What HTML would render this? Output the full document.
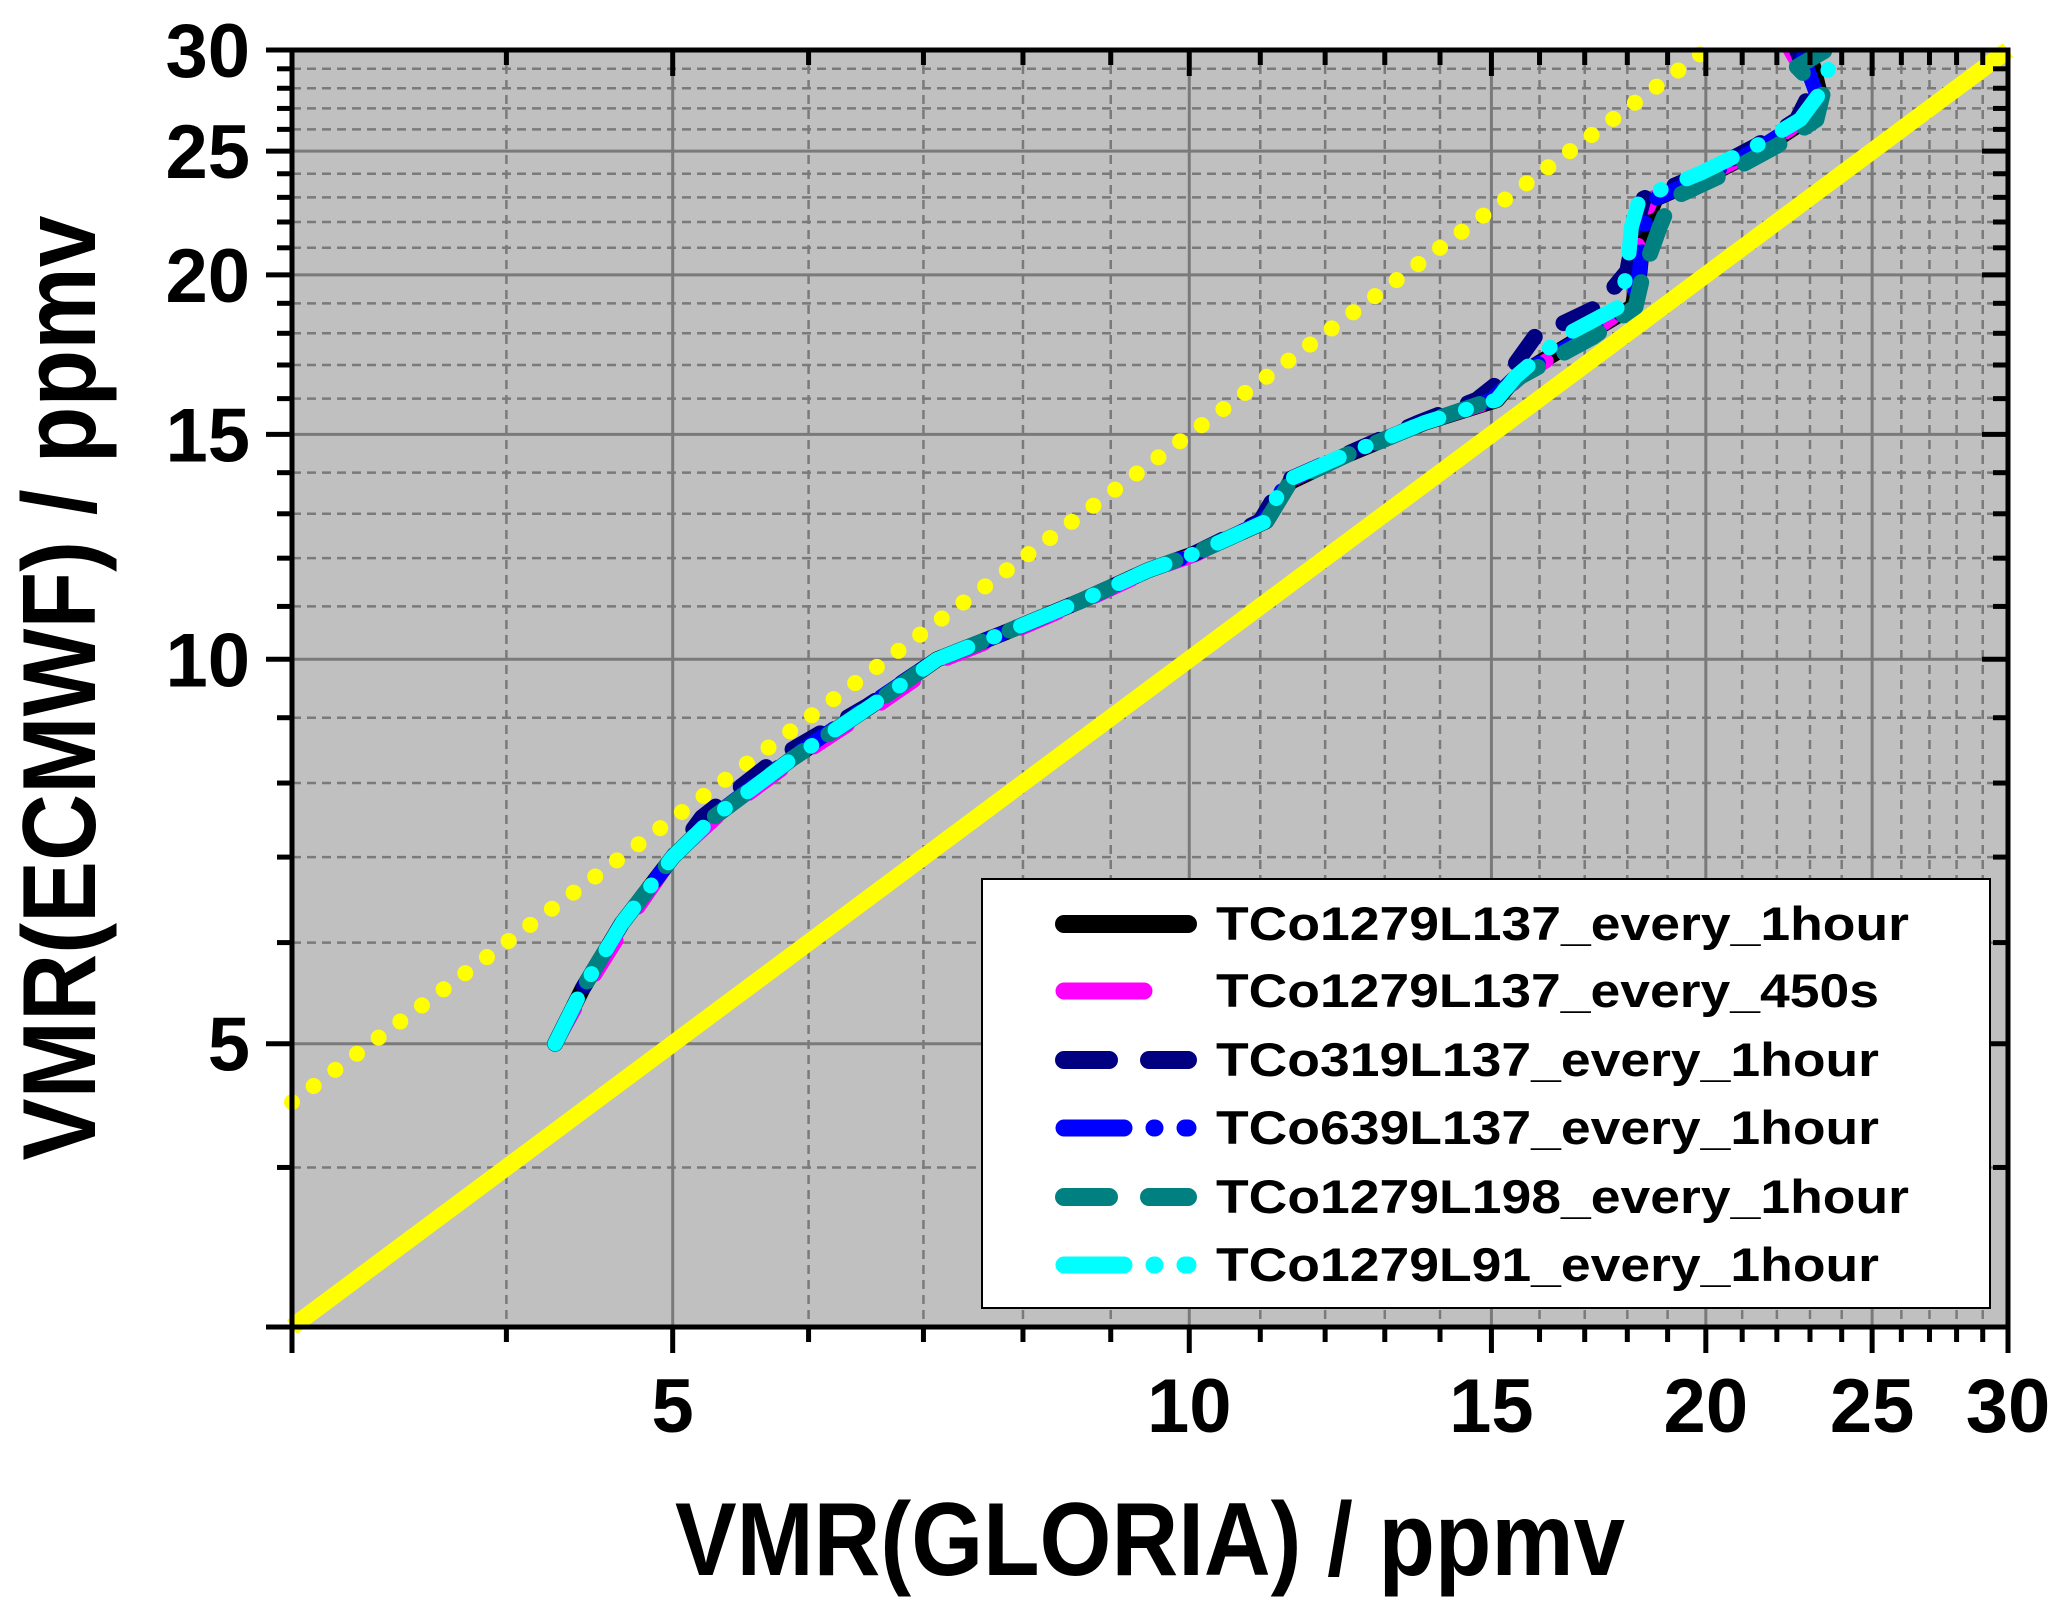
<!DOCTYPE html>
<html><head><meta charset="utf-8"><style>
body{margin:0;background:#fff}
svg{display:block;font-family:"Liberation Sans",Arial,sans-serif}
</style></head><body>
<svg id="chart" width="2067" height="1609" viewBox="0 0 2067 1609">
<rect x="292" y="50" width="1716" height="1277" fill="#c0c0c0"/>
<g id="grid"></g>
<g id="series"></g>
<g id="axes"></g>
<text x="1150" y="1575" font-size="104" font-weight="bold" text-anchor="middle" textLength="950" lengthAdjust="spacingAndGlyphs">VMR(GLORIA) / ppmv</text>
<text transform="translate(95,688) rotate(-90)" font-size="104" font-weight="bold" text-anchor="middle" textLength="945" lengthAdjust="spacingAndGlyphs">VMR(ECMWF) / ppmv</text>
<g id="legend"></g>
</svg>
<script>
const categoriesY = [5.0,5.52,6.21,7.0,7.52,8.36,9.2,10.0,10.48,11.12,11.74,12.09,12.83,13.77,14.44,15.32,15.96,16.65,17.89,18.88,20.13,21.8,22.95,24.06,25.24,26.46,27.74,29.1,30];
const x1hour = [4.27,4.43,4.67,5.0,5.28,5.87,6.53,7.13,7.79,8.66,9.46,10.06,11.09,11.45,12.33,13.71,15.11,15.52,16.95,18.13,18.3,18.4,18.7,20.24,21.7,22.9,23.3,23.1,22.6];
const x450s  = [4.27,4.45,4.7,5.0,5.3,5.9,6.58,7.2,7.85,8.7,9.5,10.1,11.05,11.4,12.3,13.7,15.1,15.6,17.0,18.0,18.2,18.3,18.6,20.2,21.7,22.8,23.0,22.7,22.4];
const x319   = [4.27,4.43,4.67,5.0,5.2,5.75,6.5,7.13,7.79,8.66,9.46,10.06,11.0,11.35,12.3,13.6,14.7,15.3,15.9,17.3,18.0,18.2,18.4,20.0,21.4,22.6,23.0,22.8,22.6];
const x639   = [4.27,4.43,4.67,5.0,5.27,5.85,6.5,7.13,7.79,8.66,9.46,10.06,11.05,11.4,12.3,13.7,15.0,15.5,17.0,18.1,18.3,18.4,18.7,20.2,21.6,22.8,23.2,22.9,22.7];
const x1279L198 = [4.27,4.43,4.67,5.0,5.28,5.87,6.53,7.13,7.79,8.66,9.46,10.06,11.09,11.45,12.33,13.71,15.0,15.6,17.2,18.2,18.4,18.8,19.1,20.6,22.0,23.2,23.4,22.6,23.5];
const x91    = [4.27,4.43,4.67,5.0,5.28,5.87,6.53,7.13,7.79,8.66,9.46,10.06,11.09,11.35,12.3,13.71,15.1,15.5,16.5,17.8,18.0,18.1,18.3,19.9,21.4,22.7,23.3,23.6,24.0];
const seriesNames = ["TCo1279L137_every_1hour","TCo1279L137_every_450s","TCo319L137_every_1hour","TCo639L137_every_1hour","TCo1279L198_every_1hour","TCo1279L91_every_1hour"];
const tickVals = [5,10,15,20,25,30];
const tickLabels = ["5","10","15","20","25","30"];
const oneToOne = [3,30];
const dottedRatio = 1.5;

const NS="http://www.w3.org/2000/svg";
const L=292,R=2008,T=50,B=1327,lo=Math.log10(3),hi=Math.log10(30);
const sx=v=>L+(Math.log10(v)-lo)/(hi-lo)*(R-L);
const sy=v=>B-(Math.log10(v)-lo)/(hi-lo)*(B-T);
function mk(tag,attrs,parent){const e=document.createElementNS(NS,tag);for(const k in attrs)e.setAttribute(k,attrs[k]);parent.appendChild(e);return e;}
const grid=document.getElementById('grid'),axes=document.getElementById('axes'),ser=document.getElementById('series'),leg=document.getElementById('legend');
for(let v=4;v<30;v++){
  const major=v%5===0;
  const gx=mk('line',{x1:sx(v),x2:sx(v),y1:T,y2:B,stroke:'#7a7a7a','stroke-width':major?3:2.5,'stroke-dasharray':major?'none':'9 6'},grid);
  
  
  const gy=mk('line',{x1:L,x2:R,y1:sy(v),y2:sy(v),stroke:'#7a7a7a','stroke-width':major?3:2.5,'stroke-dasharray':major?'none':'9 6'},grid);
  
  
}
for(let v=3;v<=30;v++){
  const major=v%5===0||v===3;
  const len=major?26:15;
  const p=[[sx(v),B,sx(v),B+len],[sx(v),T,sx(v),T+len],[L,sy(v),L-len,sy(v)],[R,sy(v),R-len,sy(v)]];
  p.forEach(q=>{const t=mk('line',{x1:q[0],y1:q[1],x2:q[2],y2:q[3],stroke:'#000','stroke-width':5},axes);
    
    });
}
const frame=mk('rect',{x:L,y:T,width:R-L,height:B-T,fill:'none',stroke:'#000','stroke-width':5},axes);


tickVals.forEach((v,i)=>{
  const tx=mk('text',{x:sx(v),y:1432,'font-size':76,'font-weight':'bold','text-anchor':'middle'},axes);tx.textContent=tickLabels[i];
  
  
  const ty=mk('text',{x:250,y:sy(v)+27,'font-size':76,'font-weight':'bold','text-anchor':'end'},axes);ty.textContent=tickLabels[i];
  
  
});
const ref=mk('line',{x1:sx(oneToOne[0]),y1:sy(oneToOne[0]),x2:sx(oneToOne[1]),y2:sy(oneToOne[1]),stroke:'#ffff00','stroke-width':17},ser);


const dl=mk('line',{x1:sx(3),y1:sy(3*dottedRatio),x2:sx(30/dottedRatio),y2:sy(30),stroke:'#ffff00','stroke-width':16,'stroke-linecap':'round','stroke-dasharray':'0 27'},ser);


const styles=[
 {c:'#000000',w:16,d:'none'},
 {c:'#ff00ff',w:15,d:'40 40'},
 {c:'#000080',w:16,d:'32 32'},
 {c:'#0000ff',w:15,d:'40 28 1 28'},
 {c:'#008080',w:16,d:'40 30'},
 {c:'#00ffff',w:15,d:'50 28 1 28'}];
const xs=[x1hour,x450s,x319,x639,x1279L198,x91];
const clip=mk('clipPath',{id:'pc'},ser);mk('rect',{x:L,y:T,width:R-L,height:B-T},clip);
xs.forEach((arr,i)=>{
  const d=arr.map((x,j)=>(j?'L':'M')+sx(x).toFixed(1)+','+sy(categoriesY[j]).toFixed(1)).join('');
  const p=mk('path',{d:d,fill:'none',stroke:styles[i].c,'stroke-width':styles[i].w,'stroke-linecap':'round','stroke-linejoin':'round','stroke-dasharray':styles[i].d,'clip-path':'url(#pc)'},ser);
  
  
});
const lb=mk('rect',{x:982,y:879,width:1008,height:429,fill:'#fff',stroke:'#000','stroke-width':2},leg);


const ly=[924,991,1060,1128,1197,1265];
const tl=[693,663,663,663,693,663];
seriesNames.forEach((n,i)=>{
  const s=styles[i];
  const ln=mk('line',{x1:1064,x2:1188,y1:ly[i],y2:ly[i],stroke:s.c,'stroke-width':s.w+2,'stroke-linecap':'round','stroke-dasharray':i===0?'none':(i===3||i===5?'60 30 1 30':(i===1?'80 60':'45 40'))},leg);
  
  
  const t=mk('text',{x:1216,y:ly[i]+16,'font-size':47,'font-weight':'bold',textLength:tl[i],lengthAdjust:'spacingAndGlyphs'},leg);
  t.textContent=n;
  
  
});
</script>
</body></html>
